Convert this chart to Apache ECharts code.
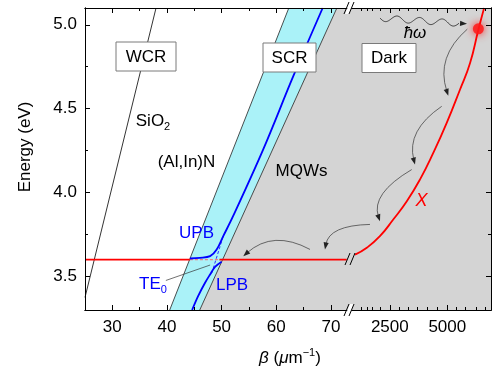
<!DOCTYPE html>
<html>
<head>
<meta charset="utf-8">
<script src="https://cdn.jsdelivr.net/npm/echarts@6/dist/echarts.min.js"></script>
<style>
  html, body { margin: 0; padding: 0; background: #fff; }
  #chart { width: 493px; height: 372px; }
</style>
</head>
<body>
<div id="chart"></div>
<script>
// tick values
var yTicks = [3.5, 4.0, 4.5, 5.0];
var yMinorTicks = [3.75, 4.25, 4.75];
var xTicksLow = [30, 40, 50, 60, 70];
var xMinorLow = [35, 45, 55, 65];
var xTicksHigh = [2500, 5000];
var xMinorHigh = [1250, 1500, 1750, 2100, 2900, 3300, 3700, 4150, 4550, 5400, 5800, 6250, 6650];

// light lines (beta, energy)
var sio2Line = [[25, 3.375], [38.0, 5.1]];
var alinnLine = [[40.5, 3.3], [62.3, 5.1]];
var mqwLine = [[46.0, 3.3], [71.1, 5.1]];

// polariton branches
var upb = [[44.2, 3.607], [46.0, 3.611], [47.9, 3.621], [49.1, 3.661], [50.3, 3.740],
           [52.1, 3.859], [57.6, 4.256], [63.1, 4.692], [68.5, 5.1]];
var lpb = [[44.6, 3.3], [45.7, 3.383], [47.0, 3.464], [47.9, 3.512], [48.8, 3.557], [50.0, 3.588]];
var te0Dashed = [[48.2, 3.52], [50.3, 3.74]];
var te0Leader = [[39.8, 3.476], [47.9, 3.568]];

// exciton
var excitonLeft = [[25, 3.6], [44.2, 3.6]];
var excitonDashed = [[44.2, 3.6], [49.6, 3.6]];
var excitonRight = [[49.6, 3.6], [72.9, 3.6]];
var excitonCurve = [[990, 3.63], [1500, 3.671], [2070, 3.740], [2650, 3.839], [3240, 3.948],
                    [3810, 4.077], [4390, 4.236], [4975, 4.415], [5550, 4.613], [5990, 4.772],
                    [6350, 4.97], [6600, 5.1]];
var excitedPoint = [[6350, 4.976]];

// relaxation arrows: start, middle, end
var arrowsHigh = [
  [5870, 4.974, 4975, 4.792, 5044, 4.577],
  [4757, 4.514, 3696, 4.355, 3596, 4.167],
  [3453, 4.137, 2218, 3.988, 2074, 3.829]
];
var arrowsLow = [
  [77.16, 3.810, 71.36, 3.770, 68.92, 3.661],
  [66.18, 3.661, 59.77, 3.710, 53.97, 3.621]
];
var photonArrow = [[2074, 5.040, 5857, 5.006]];

var FONT = '"Liberation Sans", Arial, sans-serif';
var chart = echarts.init(document.getElementById('chart'));

function xAxisDef(grid, pos, min, max, ticks, len, labels) {
  return {
    type: 'value', gridIndex: grid, position: pos, min: min, max: max, z: 10,
    axisLine: { show: true, onZero: false, lineStyle: { color: '#000', width: 1 } },
    axisTick: { show: true, inside: true, length: len, customValues: ticks, lineStyle: { color: '#000', width: 1 } },
    axisLabel: labels ? { show: true, customValues: labels, color: '#000', fontSize: 17, fontFamily: FONT, margin: 9,
                          formatter: function (v) { return String(v); } } : { show: false },
    splitLine: { show: false }
  };
}
function yAxisDef(grid, pos, ticks, len, labels) {
  return {
    type: 'value', gridIndex: grid, position: pos, min: 3.3, max: 5.1, z: 10,
    axisLine: { show: true, onZero: false, lineStyle: { color: '#000', width: 1 } },
    axisTick: { show: true, inside: true, length: len, customValues: ticks, lineStyle: { color: '#000', width: 1 } },
    axisLabel: labels ? { show: true, customValues: labels, color: '#000', fontSize: 17, fontFamily: FONT, margin: 8,
                          formatter: function (v) { return v.toFixed(1); } } : { show: false },
    splitLine: { show: false }
  };
}

function polygonSeries(xi, yi, pts, color, z) {
  return {
    type: 'custom', xAxisIndex: xi, yAxisIndex: yi, z: z, clip: false, silent: true,
    data: pts,
    renderItem: function (params, api) {
      if (params.dataIndex !== 0) return;
      return { type: 'polygon', shape: { points: pts.map(function (p) { return api.coord(p); }) },
               style: { fill: color, stroke: null } };
    }
  };
}
function lineSeries(xi, yi, data, color, width, type, smooth, z) {
  return {
    type: 'line', xAxisIndex: xi, yAxisIndex: yi, data: data, showSymbol: false, symbol: 'none',
    smooth: smooth || false, z: z || 3, silent: true, clip: false,
    lineStyle: { color: color, width: width, type: type || 'solid' }
  };
}
function arrowHead(p, d, len, half) {
  var bx = p[0] - d[0] * len, by = p[1] - d[1] * len;
  return { type: 'polygon', shape: { points: [p, [bx - d[1] * half, by + d[0] * half], [bx + d[1] * half, by - d[0] * half]] },
           style: { fill: '#222' } };
}
function curvedArrows(xi, yi, data) {
  return {
    type: 'custom', xAxisIndex: xi, yAxisIndex: yi, z: 6, clip: false, silent: true,
    data: data,
    renderItem: function (params, api) {
      var a = api.coord([api.value(0), api.value(1)]);
      var m = api.coord([api.value(2), api.value(3)]);
      var b = api.coord([api.value(4), api.value(5)]);
      var c = [2 * m[0] - (a[0] + b[0]) / 2, 2 * m[1] - (a[1] + b[1]) / 2];
      var dx = b[0] - c[0], dy = b[1] - c[1], l = Math.sqrt(dx * dx + dy * dy);
      var d = [dx / l, dy / l];
      return { type: 'group', children: [
        { type: 'bezierCurve', shape: { x1: a[0], y1: a[1], x2: b[0] - d[0] * 5, y2: b[1] - d[1] * 5, cpx1: c[0], cpy1: c[1] },
          style: { stroke: '#333', lineWidth: 0.7, fill: null } },
        arrowHead(b, d, 7, 2.6)
      ] };
    }
  };
}
function wavyArrow(xi, yi, data) {
  return {
    type: 'custom', xAxisIndex: xi, yAxisIndex: yi, z: 6, clip: false, silent: true,
    data: data,
    renderItem: function (params, api) {
      var a = api.coord([api.value(0), api.value(1)]);
      var b = api.coord([api.value(2), api.value(3)]);
      var dx = b[0] - a[0], dy = b[1] - a[1], l = Math.sqrt(dx * dx + dy * dy);
      var d = [dx / l, dy / l], n = [-d[1], d[0]];
      var wl = l - 8, pts = [];
      for (var i = 0; i <= 80; i++) {
        var t = i / 80, s = t * wl, off = 3.2 * Math.sin(t * Math.PI * 2 * 3.5);
        pts.push([a[0] + d[0] * s + n[0] * off, a[1] + d[1] * s + n[1] * off]);
      }
      return { type: 'group', children: [
        { type: 'polyline', shape: { points: pts, smooth: false }, style: { stroke: '#222', lineWidth: 0.8, fill: null } },
        arrowHead(b, d, 7, 2.6)
      ] };
    }
  };
}

var cyanBand = [alinnLine[0], alinnLine[1], mqwLine[1], mqwLine[0]];
var grayBand = [mqwLine[0], mqwLine[1], [73.5, 5.1], [73.5, 3.3]];

function txt(x, y, text, opts) {
  opts = opts || {};
  return {
    type: 'text', x: x, y: y, z: 100, rotation: opts.rotation || 0,
    style: {
      text: text, fill: opts.color || '#000', fontSize: opts.size || 17, fontFamily: FONT,
      fontStyle: opts.italic ? 'italic' : 'normal', align: 'center', verticalAlign: 'middle',
      rich: opts.rich
    }
  };
}
function box(x, y, w, h) {
  return { type: 'rect', z: 99, shape: { x: x, y: y, width: w, height: h },
           style: { fill: '#fff', stroke: '#7a7a7a', lineWidth: 1 } };
}
function breakMark(cx, cy, fillWhite) {
  var els = [];
  if (fillWhite) {
    els.push({ type: 'polygon', z: 120, shape: { points: [[cx - 5, cy + 6], [cx, cy - 6], [cx + 4, cy - 6], [cx - 1, cy + 6]] },
               style: { fill: '#fff' } });
  }
  els.push({ type: 'line', z: 121, shape: { x1: cx - 6, y1: cy + 6, x2: cx - 1, y2: cy - 6 }, style: { stroke: '#000', lineWidth: 1 } });
  els.push({ type: 'line', z: 121, shape: { x1: cx - 1, y1: cy + 6, x2: cx + 4, y2: cy - 6 }, style: { stroke: '#000', lineWidth: 1 } });
  return els;
}

var sub = { fontSize: 11, fontFamily: FONT, padding: [12, 0, 0, 0] };

var option = {
  animation: false,
  backgroundColor: '#fff',
  grid: [
    { left: 85, top: 8, width: 265, height: 302, show: false },
    { left: 350, top: 8, width: 141, height: 302, show: true, backgroundColor: '#d4d4d4', borderWidth: 0 }
  ],
  xAxis: [
    xAxisDef(0, 'bottom', 25, 73.5, xTicksLow, 5, xTicksLow),
    xAxisDef(0, 'bottom', 25, 73.5, xMinorLow, 3, null),
    xAxisDef(0, 'top', 25, 73.5, xTicksLow, 5, null),
    xAxisDef(0, 'top', 25, 73.5, xMinorLow, 3, null),
    xAxisDef(1, 'bottom', 770, 6900, xTicksHigh, 5, xTicksHigh),
    xAxisDef(1, 'bottom', 770, 6900, xMinorHigh, 3, null),
    xAxisDef(1, 'top', 770, 6900, xTicksHigh, 5, null),
    xAxisDef(1, 'top', 770, 6900, xMinorHigh, 3, null)
  ],
  yAxis: [
    yAxisDef(0, 'left', yTicks, 5, yTicks),
    yAxisDef(0, 'left', yMinorTicks, 3, null),
    yAxisDef(1, 'right', yTicks, 5, null),
    yAxisDef(1, 'right', yMinorTicks, 3, null)
  ],
  series: [
    polygonSeries(0, 0, cyanBand, '#aaf2f8', 1),
    polygonSeries(0, 0, grayBand, '#d4d4d4', 1),
    lineSeries(0, 0, sio2Line, '#000', 0.8),
    lineSeries(0, 0, alinnLine, '#222', 0.8),
    lineSeries(0, 0, mqwLine, '#222', 0.8),
    lineSeries(0, 0, te0Leader, '#333', 0.7),
    lineSeries(0, 0, excitonLeft, '#ff0000', 1.8),
    lineSeries(0, 0, excitonDashed, '#f08080', 1.2, [3, 2]),
    lineSeries(0, 0, excitonRight, '#ff0000', 1.8),
    lineSeries(0, 0, te0Dashed, '#3030ff', 1, [3, 2]),
    lineSeries(0, 0, upb, '#0000ff', 1.8, 'solid', 0.35, 4),
    lineSeries(0, 0, lpb, '#0000ff', 1.8, 'solid', 0.35, 4),
    lineSeries(4, 2, excitonCurve, '#ff0000', 1.8, 'solid', 0.5, 4),
    {
      type: 'scatter', xAxisIndex: 4, yAxisIndex: 2, data: excitedPoint, symbolSize: 11, z: 5, silent: true,
      itemStyle: { color: '#ff1a1a', opacity: 0.85, shadowBlur: 8, shadowColor: '#ff0000' }
    },
    curvedArrows(4, 2, arrowsHigh),
    curvedArrows(0, 0, arrowsLow),
    wavyArrow(4, 2, photonArrow)
  ],
  graphic: [
    box(116, 42, 60, 29), txt(146, 57, 'WCR'),
    box(263, 43, 53, 29), txt(289.5, 58, 'SCR'),
    box(362, 43.5, 54, 29), txt(389, 58.5, 'Dark'),
    txt(153, 121, '{n|SiO}{s|2}', { rich: { n: { fontSize: 17, fontFamily: FONT }, s: sub } }),
    txt(186.5, 162.5, '(Al,In)N'),
    txt(301.5, 171.5, 'MQWs'),
    txt(415, 33, '\u0127\u03c9', { italic: true, size: 17 }),
    txt(421.5, 201, 'X', { italic: true, size: 18, color: '#ff0000' }),
    txt(196.5, 233.5, 'UPB', { color: '#0000ff' }),
    txt(232, 285, 'LPB', { color: '#0000ff' }),
    txt(153, 284, '{n|TE}{s|0}', { color: '#0000ff', rich: { n: { fontSize: 17, fontFamily: FONT, color: '#0000ff' },
                                                            s: { fontSize: 11, fontFamily: FONT, color: '#0000ff', padding: [12, 0, 0, 0] } } }),
    txt(25, 147, 'Energy (eV)', { rotation: Math.PI / 2 }),
    txt(290, 358, '{i|\u03b2} {n|(}{i|\u03bc}{n|m}{p|\u22121}{n|)}', {
      rich: {
        i: { fontSize: 17, fontFamily: FONT, fontStyle: 'italic' },
        n: { fontSize: 17, fontFamily: FONT },
        p: { fontSize: 11, fontFamily: FONT, padding: [0, 0, 10, 0] }
      }
    })
  ].concat(breakMark(350, 8, true), breakMark(350, 310, true), breakMark(351, 259, false))
};

chart.setOption(option);
</script>
</body>
</html>
